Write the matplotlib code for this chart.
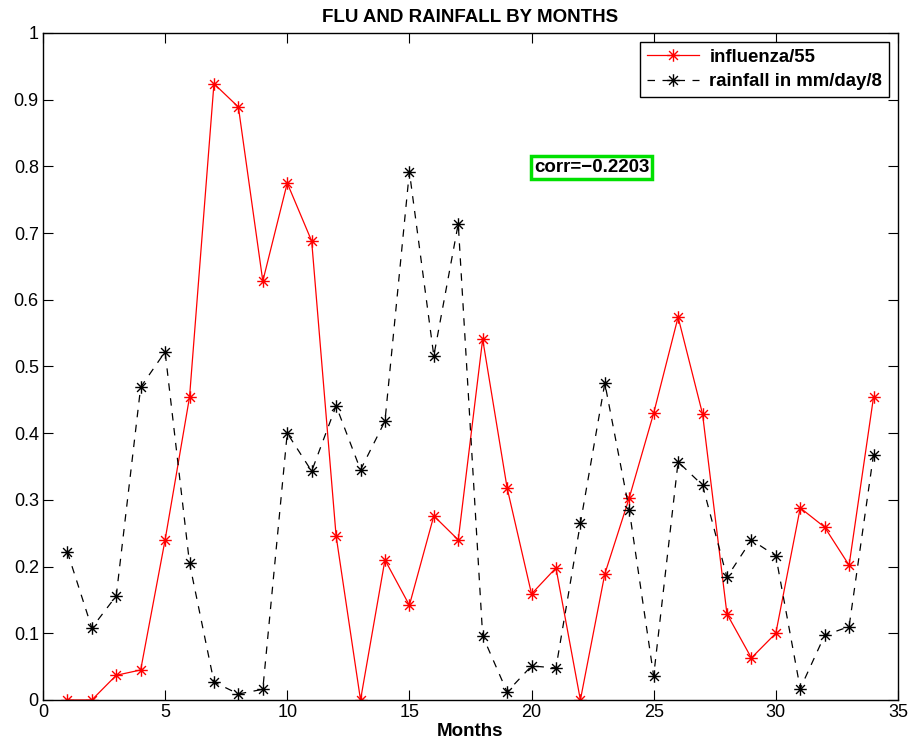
import numpy as np
import matplotlib
matplotlib.use("Agg")
import matplotlib.pyplot as plt
from matplotlib.path import Path

plt.rcParams['font.family'] = ['Liberation Sans', 'DejaVu Sans']

months = np.arange(1, 35)
influenza = [0, 0, 0.037, 0.045, 0.24, 0.454, 0.924, 0.889, 0.628, 0.775,
             0.688, 0.246, 0, 0.21, 0.142, 0.276, 0.24, 0.541, 0.318, 0.159,
             0.198, 0, 0.189, 0.303, 0.43, 0.574, 0.429, 0.129, 0.063, 0.1,
             0.288, 0.259, 0.202, 0.454]
rainfall = [0.222, 0.108, 0.156, 0.469, 0.522, 0.205, 0.027, 0.009, 0.016, 0.4,
            0.343, 0.441, 0.345, 0.418, 0.792, 0.516, 0.714, 0.096, 0.012, 0.051,
            0.048, 0.265, 0.475, 0.285, 0.036, 0.357, 0.322, 0.184, 0.24, 0.216,
            0.017, 0.097, 0.11, 0.368]
corr_label = "corr=\u22120.2203"

# matlab style asterisk: a plus and a cross on top of each other
d = 0.7071
verts = [(-1, 0), (1, 0), (0, -1), (0, 1), (-d, -d), (d, d), (-d, d), (d, -d)]
codes = [Path.MOVETO, Path.LINETO] * 4
asterisk = Path(verts, codes)

fig = plt.figure(figsize=(9.12, 7.46), dpi=100)
ax = fig.add_axes([0.0471, 0.0617, 0.9375, 0.8941])

ax.plot(months, influenza, color='red', marker=asterisk, markersize=9, linewidth=0.9,
        markeredgewidth=1.0, label='influenza/55')
ax.plot(months, rainfall, color='black', linestyle=(0, (6, 6)), marker=asterisk,
        markersize=9, linewidth=0.9, markeredgewidth=1.0, label='rainfall in mm/day/8')

ax.set_xlim(0, 35)
ax.set_ylim(0, 1)
ax.set_xticks(np.arange(0, 36, 5))
ax.set_yticks(np.arange(0, 1.01, 0.1))
ax.set_yticklabels(['0', '0.1', '0.2', '0.3', '0.4', '0.5', '0.6', '0.7', '0.8', '0.9', '1'])
ax.tick_params(direction='in', top=True, right=True, labelsize=13, length=7, pad=3)
for s in ax.spines.values():
    s.set_linewidth(1.0)

ax.set_title('FLU AND RAINFALL BY MONTHS', fontsize=13.5, fontweight='bold', pad=8)
ax.set_xlabel('Months', fontsize=13.5, fontweight='bold', labelpad=1)

leg = ax.legend(loc='upper right', prop={'weight': 'bold', 'size': 13.4},
                fancybox=False, edgecolor='black', framealpha=1, borderaxespad=0.5,
                handlelength=2.8, handletextpad=0.55, borderpad=0.35, labelspacing=0.4)
leg.get_frame().set_linewidth(1.0)

ax.text(20.1, 0.798, corr_label, fontsize=13.5, fontweight='bold', va='center', ha='left',
        bbox=dict(boxstyle='square,pad=0.15', facecolor='white', edgecolor='#00e000', linewidth=2.5))

fig.savefig('out.png', dpi=100)
